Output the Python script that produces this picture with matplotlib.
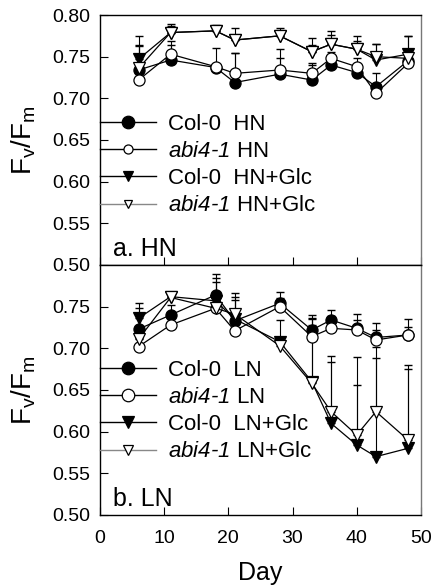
import matplotlib
matplotlib.use('Agg')
import matplotlib.pyplot as plt
from matplotlib.lines import Line2D

plt.rcParams['font.family'] = ['Liberation Sans', 'DejaVu Sans']
plt.rcParams['mathtext.fontset'] = 'custom'
plt.rcParams['mathtext.rm'] = 'Liberation Sans'
plt.rcParams['mathtext.sf'] = 'Liberation Sans:italic'

# days of measurement
days = [6, 11, 18, 21, 28, 33, 36, 40, 43, 48]

# a. HN
col_hn = [0.734, 0.746, 0.737, 0.719, 0.729, 0.722, 0.740, 0.731, 0.714, 0.745]
col_hn_err = [0.030, 0.018, 0.000, 0.035, 0.020, 0.020, 0.010, 0.010, 0.016, 0.010]
abi_hn = [0.722, 0.753, 0.738, 0.730, 0.734, 0.730, 0.748, 0.738, 0.706, 0.742]
abi_hn_err = [0.010, 0.016, 0.023, 0.024, 0.025, 0.010, 0.008, 0.010, 0.010, 0.010]
col_hng = [0.747, 0.779, 0.781, 0.770, 0.775, 0.756, 0.765, 0.759, 0.746, 0.753]
col_hng_err = [0.016, 0.010, 0.007, 0.006, 0.009, 0.017, 0.016, 0.016, 0.019, 0.022]
abi_hng = [0.736, 0.779, 0.781, 0.770, 0.775, 0.756, 0.765, 0.759, 0.750, 0.748]
abi_hng_err = [0.039, 0.008, 0.006, 0.015, 0.006, 0.008, 0.011, 0.010, 0.015, 0.027]

# b. LN
col_ln = [0.723, 0.740, 0.764, 0.733, 0.754, 0.722, 0.734, 0.724, 0.713, 0.716]
col_ln_err = [0.025, 0.012, 0.020, 0.025, 0.013, 0.018, 0.012, 0.017, 0.017, 0.019]
abi_ln = [0.702, 0.728, 0.748, 0.721, 0.750, 0.714, 0.724, 0.722, 0.710, 0.716]
abi_ln_err = [0.010, 0.010, 0.010, 0.010, 0.010, 0.022, 0.015, 0.012, 0.012, 0.010]
col_lng = [0.736, 0.762, 0.757, 0.735, 0.708, 0.660, 0.610, 0.584, 0.570, 0.580]
col_lng_err = [0.018, 0.005, 0.032, 0.031, 0.026, 0.075, 0.081, 0.072, 0.118, 0.100]
abi_lng = [0.711, 0.761, 0.748, 0.741, 0.703, 0.658, 0.624, 0.596, 0.624, 0.590]
abi_lng_err = [0.010, 0.006, 0.031, 0.021, 0.010, 0.070, 0.060, 0.093, 0.078, 0.085]

abi = '$\\mathsf{abi4\u20101}$'
labels_hn = ['Col-0  HN', abi + ' HN', 'Col-0  HN+Glc', abi + ' HN+Glc']
labels_ln = ['Col-0  LN', abi + ' LN', 'Col-0  LN+Glc', abi + ' LN+Glc']

fig = plt.figure(figsize=(4.33, 5.87), dpi=100)
ax1 = fig.add_axes([0.231, 0.5486, 0.741, 0.4258])
ax2 = fig.add_axes([0.231, 0.1227, 0.741, 0.4259])

styles = [('o', 'black'), ('o', 'white'), ('v', 'black'), ('v', 'white')]


def draw(ax, series, errs, labels, tag, legend_sizes, legend_colors, leg_y):
    for i, (vals, err) in enumerate(zip(series, errs)):
        ax.errorbar(days, vals, yerr=[[0] * len(err), err], fmt='none',
                    ecolor='black', elinewidth=0.8, capsize=3, capthick=1.0, zorder=1)
    for i, vals in enumerate(series):
        m, fc = styles[i]
        ax.plot(days, vals, color='black', lw=0.9, marker=m, ms=8,
                mfc=fc, mec='black', mew=0.9, zorder=2 + i)
    handles = []
    for i in range(4):
        m, fc = styles[i]
        handles.append(Line2D([], [], color=legend_colors[i], lw=1.0, marker=m,
                              ms=legend_sizes[i], mfc=fc, mec='black', mew=0.9))
    ax.legend(handles, labels, loc='upper left', bbox_to_anchor=(-0.027, leg_y),
              frameon=False, fontsize=16, handlelength=2.5, handletextpad=0.55,
              labelspacing=0.28, borderaxespad=0)
    ax.text(0.04, 0.036, tag, transform=ax.transAxes, fontsize=18)
    ax.set_xlim(0, 50)
    ax.set_ylim(0.50, 0.80)
    ax.set_yticks([0.50, 0.55, 0.60, 0.65, 0.70, 0.75, 0.80])
    ax.set_xticks([0, 10, 20, 30, 40, 50])
    ax.tick_params(axis='y', direction='in', length=6, pad=7, labelsize=14)
    ax.tick_params(axis='x', direction='in', length=6, pad=11, labelsize=14)
    ax.set_ylabel('F$_\\mathregular{v}$/F$_\\mathregular{m}$', fontsize=20, labelpad=10)
    for s in ax.spines.values():
        s.set_linewidth(1.0)
    ax.spines['right'].set_color('#777777')


draw(ax1, [col_hn, abi_hn, col_hng, abi_hng],
     [col_hn_err, abi_hn_err, col_hng_err, abi_hng_err],
     labels_hn, 'a. HN', [9, 6.5, 7, 6], ['black', 'black', 'black', '#888888'], 0.641)
draw(ax2, [col_ln, abi_ln, col_lng, abi_lng],
     [col_ln_err, abi_ln_err, col_lng_err, abi_lng_err],
     labels_ln, 'b. LN', [9, 9, 9, 6.5], ['black', 'black', 'black', '#888888'], 0.657)

ax1.tick_params(axis='x', labelbottom=False)
ax2.set_yticks([0.50, 0.55, 0.60, 0.65, 0.70, 0.75])
ax2.set_xlabel('Day', fontsize=18, labelpad=10)

plt.savefig('out.png', dpi=100)
